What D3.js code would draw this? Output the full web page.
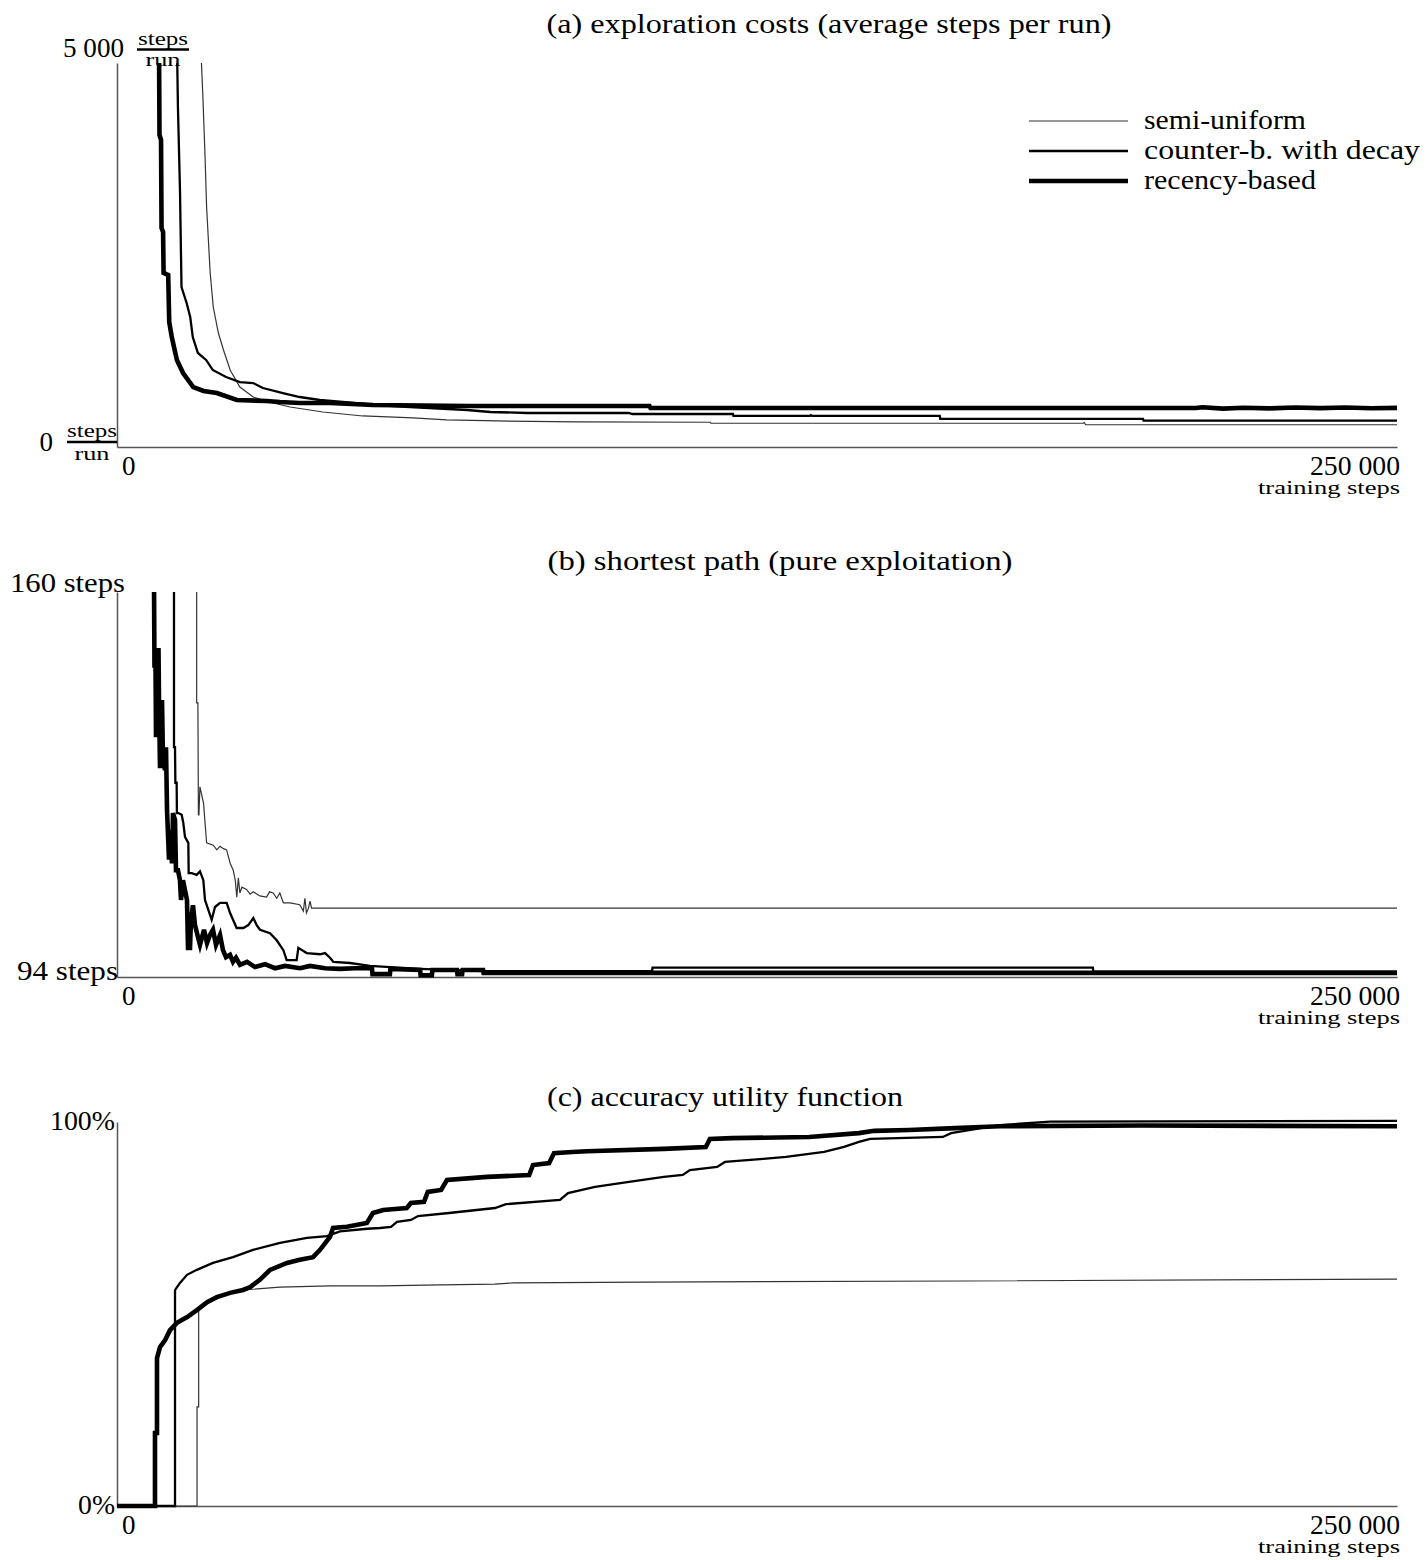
<!DOCTYPE html>
<html><head><meta charset="utf-8">
<script src="https://cdn.jsdelivr.net/npm/d3@7"></script>
<style>body{margin:0;background:#fff}text{font-family:"Liberation Serif","DejaVu Serif",serif;fill:#000}</style>
</head><body>
<svg id="chart" width="1426" height="1560"></svg>
<script>
// ---------- data (x in thousands of training steps) ----------
const seriesNames = ["semi-uniform", "counter-b. with decay", "recency-based"];
const panelTitles = ["(a) exploration costs (average steps per run)", "(b) shortest path (pure exploitation)", "(c) accuracy utility function"];
const xTickValues = [0, 250];
const xTickLabels = ["0", "250 000"];
const xAxisTitle = "training steps";
const explorationDomain = [0, 5000];
const pathDomain = [94, 160];
const accuracyDomain = [0, 100];

const explorationSemiUniform = [[16.3,5300],[16.8,4518],[17.2,3776],[17.5,3125],[18.2,2266],[18.8,1823],[19.8,1484],[20.8,1263],[22.1,1003],[24.0,781],[26.6,651],[28.0,620],[30.5,573],[33.8,521],[40.2,456],[48.0,404],[57.8,378],[64.4,352],[74.2,339],[89.8,326],[115.9,322],[116.0,309],[188.7,309],[188.9,318],[189.2,290],[250,290]];
const explorationCounter = [[11.7,5300],[11.9,4427],[12.3,3346],[12.6,2083],[13.6,1875],[14.3,1693],[14.8,1432],[15.8,1224],[17.4,1133],[18.7,1003],[21.3,911],[24.0,846],[26.6,833],[28.5,768],[32.4,703],[35.7,651],[39.6,612],[50.8,547],[57.2,521],[68.4,482],[72.9,456],[80.1,443],[100.0,443],[100.6,430],[120.3,430],[120.4,404],[135.3,404],[135.5,415],[135.8,404],[160.7,404],[160.8,365],[200.4,365],[200.5,343],[250,343]];
const explorationRecency = [[8.2,5300],[8.3,4062],[8.6,4000],[8.7,2852],[9.0,2800],[9.1,2266],[10.0,2240],[10.2,1628],[10.7,1432],[11.7,1133],[12.9,963],[14.9,781],[16.9,729],[19.5,703],[23.4,612],[29.2,599],[31.8,586],[35.7,573],[41.6,573],[50.0,547],[69.0,534],[104.0,534],[104.2,508],[210.7,508],[212,518],[216,500],[220,512],[225,503],[230,515],[235,506],[240,514],[245,504],[250,510]];

const pathSemiUniform = [[15.56,162],[15.56,141],[15.8,141],[15.9,121.8],[16.0,121.8],[16.2,126.6],[16.9,123.8],[17.2,120.4],[17.5,117],[18.8,116.6],[19.5,115.8],[20.1,116.4],[20.8,116.0],[21.4,115.8],[22.1,113.5],[22.7,112.3],[23.1,110.6],[23.4,107.7],[23.7,111],[24.0,108.4],[24.4,109.4],[25.3,109.0],[26.0,108.2],[26.6,108.6],[27.9,107.9],[29.2,107.7],[29.8,108.6],[30.5,108.4],[31.2,107.5],[31.8,108.4],[32.5,106.7],[33.8,106.7],[35.7,106.4],[36.4,105.3],[36.7,107.5],[37.0,105],[37.4,105.8],[37.7,107],[38.0,105.8],[250,105.8]];
const pathCounter = [[11.13,162],[11.13,133.4],[11.33,133.4],[11.4,127.3],[11.65,127.3],[11.7,122.1],[11.98,122.1],[12.63,121.8],[12.95,120.4],[13.28,118],[13.93,117],[14.0,111.8],[14.58,111.8],[15.56,111.5],[16.21,112.1],[16.86,110.6],[17.19,107.2],[17.84,105.5],[18.49,103.8],[19.14,106],[20.12,106.7],[21.42,106.7],[22.07,105],[23.37,102.4],[24.67,102.4],[25.65,102.9],[26.63,104.1],[27.28,102.9],[27.93,102.1],[29.88,101.5],[31.19,100.3],[32.49,98.6],[33.14,96.9],[35.09,96.9],[35.42,99.0],[37.04,98.1],[39.65,97.9],[40.63,98.1],[41.6,97.3],[42.25,96.6],[45.5,96.4],[49.4,95.9],[53.4,95.7],[59.2,95.4],[71.5,95.0],[104.5,95.0],[104.6,95.6],[190.6,95.6],[190.7,94.9],[250,94.9]];
const pathRecency = [[7.23,161.4],[7.32,147],[7.52,148.3],[7.62,135.1],[7.91,150],[8.11,150],[8.2,141.5],[8.4,129.8],[8.79,141.5],[8.98,131.2],[9.38,129.5],[9.57,133.4],[9.77,122.6],[10.16,114.1],[10.35,119.2],[10.74,113.5],[10.94,122.1],[11.33,120.9],[11.52,112.3],[11.91,112.3],[12.3,110.6],[12.5,107.2],[12.89,110.6],[13.28,108.9],[13.67,107.2],[13.87,99],[14.26,99],[14.45,103.8],[14.84,106.3],[15.23,102.9],[15.63,101.5],[16.21,99.5],[16.99,102.1],[17.58,99.8],[18.16,101.2],[18.75,102.1],[19.34,99.5],[20.12,101.2],[20.7,98.6],[21.29,97.4],[22.07,97.8],[22.66,96.6],[23.24,97.3],[24.02,96.1],[25.39,96.6],[26.95,95.7],[28.91,96.2],[30.86,95.5],[32.81,95.9],[35.74,95.5],[37.7,95.9],[40.63,95.5],[43.55,95.4],[46.48,95.5],[49.8,95.5],[49.9,94.5],[53.3,94.5],[53.4,95.4],[59.2,95.2],[59.3,94.3],[61.5,94.3],[61.6,95.2],[66.4,95.2],[66.5,94.5],[67.4,94.5],[67.5,95.2],[71.5,95.2],[71.6,94.7],[250,94.7]];

const accuracySemiUniform = [[0,0],[15.63,0],[15.63,25.8],[15.95,25.8],[15.95,51.0],[17.6,53.1],[19.5,54.4],[22.1,55.5],[24.6,56.25],[31.84,57.0],[41.6,57.3],[51.37,57.3],[63.3,57.6],[73.8,57.8],[77.5,58.1],[102.9,58.3],[165.8,58.6],[250,59.1]];
const accuracyCounter = [[0,0],[11.33,0],[11.33,56.25],[12.3,58.1],[13.67,60.2],[15.6,61.5],[18.75,63.3],[22.66,64.8],[26.56,66.7],[31.84,68.5],[37.11,69.8],[41.02,70.3],[43.55,71.5],[48.83,72.2],[51.37,72.4],[53.52,72.7],[54.69,74.0],[57.42,74.5],[58.79,75.5],[64.84,76.3],[73.83,77.6],[75.98,78.6],[86.52,79.7],[88.09,81.5],[93.36,83.1],[100,84.4],[106.8,85.7],[110.5,86.2],[111.9,87.5],[117.2,88.3],[118.75,89.6],[126.2,90.4],[130.7,90.9],[138.1,92.2],[142,93.5],[144.9,94.8],[147.1,95.6],[161.3,96.1],[162.9,97.1],[168.75,98.4],[172.5,99.2],[182.2,100.1],[250,100.3]];
const accuracyRecency = [[0,0],[7.42,0],[7.42,19.0],[7.81,19.0],[7.81,38.5],[8.4,41.4],[9.4,43.2],[10.35,45.8],[11.7,47.7],[13.7,49.2],[15.6,51.0],[17.6,53.1],[19.5,54.4],[22.1,55.5],[24.6,56.25],[26.0,57.0],[27.9,58.9],[29.9,61.5],[33.2,63.3],[35.7,64.1],[38.3,64.8],[39.65,66.7],[41.6,70.1],[42.2,72.4],[44.9,72.7],[48.8,73.7],[50.0,76.3],[52.0,77.1],[56.6,77.6],[57.4,78.9],[59.96,79.2],[60.7,81.8],[63.3,82.3],[64.45,84.9],[72.3,85.7],[80.5,86.2],[81.25,88.8],[84.4,89.3],[85.35,91.9],[88.9,92.2],[91.8,92.4],[106.8,93.0],[115.0,93.5],[115.8,95.6],[120.1,95.8],[135.2,96.1],[144.9,97.1],[147.9,97.7],[154.7,97.9],[163.7,98.4],[168.75,98.7],[172.5,98.9],[200,99.1],[250,98.9]];

// ---------- drawing ----------
const svg = d3.select("#chart");
const x = d3.scaleLinear().domain([0, 250]).range([117, 1397]);
const styles = [
  {stroke: "#333", width: 1.2},
  {stroke: "#000", width: 2.3},
  {stroke: "#000", width: 4.6}
];

function text(g, s, px, py, size, anchor, len) {
  const t = g.append("text").attr("x", px).attr("y", py)
    .attr("font-size", size).attr("text-anchor", anchor || "start").text(s);
  if (len) t.attr("textLength", len).attr("lengthAdjust", "spacingAndGlyphs");
  return t;
}

function drawPanel(i, domain, top, bottom, series, clipTopPad) {
  const y = d3.scaleLinear().domain(domain).range([bottom, top]);
  const g = svg.append("g");
  const cid = "clip" + i;
  svg.append("clipPath").attr("id", cid).append("rect")
    .attr("x", x(0) - 2).attr("y", top - clipTopPad)
    .attr("width", x(250) - x(0) + 5).attr("height", bottom - top + 5 + clipTopPad);
  const ay = g.append("g").attr("transform", `translate(${x(0)},0)`)
    .call(d3.axisLeft(y).tickValues([]).tickSizeOuter(0));
  const ax = g.append("g").attr("transform", `translate(0,${bottom})`)
    .call(d3.axisBottom(x).tickValues([]).tickSizeOuter(0));
  [ay, ax].forEach(a => a.select(".domain").attr("stroke", "#555").attr("stroke-width", 1.5));
  const line = d3.line().x(d => x(d[0])).y(d => y(d[1]));
  const lg = g.append("g").attr("clip-path", `url(#${cid})`);
  series.forEach((s, k) => {
    lg.append("path").datum(s).attr("d", line).attr("fill", "none")
      .attr("stroke", styles[k].stroke).attr("stroke-width", styles[k].width)
      .attr("stroke-linejoin", "miter").attr("stroke-linecap", "butt");
  });
  // x tick labels
  text(g, xTickLabels[0], x(xTickValues[0]) + 5, bottom + 28, 27, "start");
  text(g, xTickLabels[1], x(xTickValues[1]) + 3, bottom + 28, 27, "end", 90);
  text(g, xAxisTitle, x(xTickValues[1]) + 3, bottom + 47, 19, "end", 142);
  return {g, y};
}

// panel a
const pa = drawPanel(0, explorationDomain, 63, 447, [explorationSemiUniform, explorationCounter, explorationRecency], 0);
text(pa.g, panelTitles[0], 829, 33, 27, "middle", 565);
text(pa.g, "5 000", 124, pa.y(5000) - 6, 27, "end", 61);
text(pa.g, "steps", 163, pa.y(5000) - 18, 19, "middle", 50);
pa.g.append("line").attr("x1", 137).attr("x2", 189).attr("y1", pa.y(5000) - 13.5).attr("y2", pa.y(5000) - 13.5).attr("stroke", "#000").attr("stroke-width", 2.5);
text(pa.g, "run", 163, pa.y(5000) + 3, 19, "middle", 35);
text(pa.g, "0", 53, pa.y(0) + 4, 27, "end");
text(pa.g, "steps", 92, pa.y(0) - 10, 19, "middle", 50);
pa.g.append("line").attr("x1", 67).attr("x2", 117).attr("y1", pa.y(0) - 5).attr("y2", pa.y(0) - 5).attr("stroke", "#000").attr("stroke-width", 2.5);
text(pa.g, "run", 92, pa.y(0) + 13, 19, "middle", 35);
// legend
const legendY = [121, 151, 181];
const legendLen = [162, 276, 172];
seriesNames.forEach((n, k) => {
  pa.g.append("line").attr("x1", 1029).attr("x2", 1128).attr("y1", legendY[k]).attr("y2", legendY[k])
    .attr("stroke", styles[k].stroke).attr("stroke-width", styles[k].width);
  text(pa.g, n, 1144, legendY[k] + 8, 27, "start", legendLen[k]);
});

// panel b
const pb = drawPanel(1, pathDomain, 592, 977, [pathSemiUniform, pathCounter, pathRecency], 0);
text(pb.g, panelTitles[1], 780, 570, 27, "middle", 465);
text(pb.g, "160 steps", 125, pb.y(160), 27, "end", 115);
text(pb.g, "94 steps", 118, pb.y(94) + 3, 27, "end", 101);

// panel c
const pc = drawPanel(2, accuracyDomain, 1122, 1506, [accuracySemiUniform, accuracyCounter, accuracyRecency], 4);
text(pc.g, panelTitles[2], 725, 1106, 27, "middle", 356);
text(pc.g, "100%", 115, pc.y(100) + 8, 27, "end", 65);
text(pc.g, "0%", 115, pc.y(0) + 8, 27, "end", 37);
</script>
</body></html>
